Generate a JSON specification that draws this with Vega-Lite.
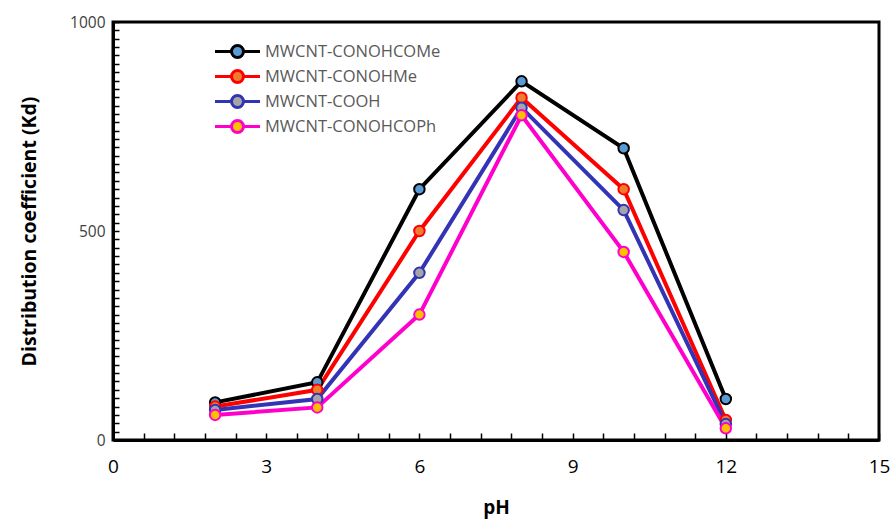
{
  "$schema": "https://vega.github.io/schema/vega-lite/v6.json",
  "autosize": "none",
  "width": 766,
  "height": 418,
  "padding": {"left": 113, "top": 22, "right": 17, "bottom": 83},
  "background": "white",
  "config": {
    "view": {"stroke": "black", "strokeWidth": 3},
    "font": "Open Sans"
  },
  "data": {
    "values": [
      {"pH": 2, "Kd": 90, "s": "MWCNT-CONOHCOMe"},
      {"pH": 4, "Kd": 138, "s": "MWCNT-CONOHCOMe"},
      {"pH": 6, "Kd": 600, "s": "MWCNT-CONOHCOMe"},
      {"pH": 8, "Kd": 858, "s": "MWCNT-CONOHCOMe"},
      {"pH": 10, "Kd": 698, "s": "MWCNT-CONOHCOMe"},
      {"pH": 12, "Kd": 98, "s": "MWCNT-CONOHCOMe"},
      {"pH": 2, "Kd": 80, "s": "MWCNT-CONOHMe"},
      {"pH": 4, "Kd": 120, "s": "MWCNT-CONOHMe"},
      {"pH": 6, "Kd": 500, "s": "MWCNT-CONOHMe"},
      {"pH": 8, "Kd": 819, "s": "MWCNT-CONOHMe"},
      {"pH": 10, "Kd": 600, "s": "MWCNT-CONOHMe"},
      {"pH": 12, "Kd": 48, "s": "MWCNT-CONOHMe"},
      {"pH": 2, "Kd": 72, "s": "MWCNT-COOH"},
      {"pH": 4, "Kd": 98, "s": "MWCNT-COOH"},
      {"pH": 6, "Kd": 400, "s": "MWCNT-COOH"},
      {"pH": 8, "Kd": 795, "s": "MWCNT-COOH"},
      {"pH": 10, "Kd": 550, "s": "MWCNT-COOH"},
      {"pH": 12, "Kd": 38, "s": "MWCNT-COOH"},
      {"pH": 2, "Kd": 60, "s": "MWCNT-CONOHCOPh"},
      {"pH": 4, "Kd": 78, "s": "MWCNT-CONOHCOPh"},
      {"pH": 6, "Kd": 300, "s": "MWCNT-CONOHCOPh"},
      {"pH": 8, "Kd": 777, "s": "MWCNT-CONOHCOPh"},
      {"pH": 10, "Kd": 450, "s": "MWCNT-CONOHCOPh"},
      {"pH": 12, "Kd": 28, "s": "MWCNT-CONOHCOPh"}
    ]
  },
  "encoding": {
    "x": {
      "field": "pH", "type": "quantitative",
      "scale": {"domain": [0, 15], "nice": false, "zero": false},
      "axis": {
        "title": "pH",
        "titleFont": "Open Sans", "titleFontSize": 19, "titleFontWeight": "bold", "titleColor": "black",
        "titlePadding": 22,
        "values": [0, 0.6, 1.2, 1.8, 2.4, 3, 3.6, 4.2, 4.8, 5.4, 6, 6.6, 7.2, 7.8, 8.4, 9, 9.6, 10.2, 10.8, 11.4, 12, 12.6, 13.2, 13.8, 14.4, 15],
        "tickCount": 100,
        "tickMinStep": 0.1,
        "labelExpr": "indexof([0, 3, 6, 9, 12, 15], datum.value) >= 0 ? format(datum.value, 'd') : ''",
        "labelOverlap": false,
        "labelFont": "Open Sans", "labelFontSize": 19, "labelColor": "black",
        "labelPadding": 24, "labelFlush": false, "labelBound": false,
        "domainColor": "black", "domainWidth": 3,
        "tickColor": "black", "tickWidth": 1.5,
        "tickSize": -7,
        "grid": false
      }
    },
    "y": {
      "field": "Kd", "type": "quantitative",
      "scale": {"domain": [0, 1000], "nice": false},
      "axis": {
        "title": "Distribution coefficient (Kd)",
        "titleFont": "Open Sans", "titleFontSize": 19.5, "titleFontWeight": "bold", "titleColor": "black",
        "titlePadding": 30,
        "values": [0,20,40,60,80,100,120,140,160,180,200,220,240,260,280,300,320,340,360,380,400,420,440,460,480,500,520,540,560,580,600,620,640,660,680,700,720,740,760,780,800,820,840,860,880,900,920,940,960,980,1000],
        "tickCount": 100,
        "labelExpr": "datum.value % 500 === 0 ? format(datum.value, 'd') : ''",
        "labelOverlap": false,
        "labelFont": "Open Sans", "labelFontSize": 15.5, "labelColor": "#404040",
        "labelPadding": 14,
        "domainColor": "black", "domainWidth": 3,
        "tickColor": "black", "tickWidth": 1.5,
        "tickSize": -6,
        "grid": false
      }
    },
    "stroke": {
      "field": "s", "type": "nominal",
      "scale": {
        "domain": ["MWCNT-CONOHCOMe", "MWCNT-CONOHMe", "MWCNT-COOH", "MWCNT-CONOHCOPh"],
        "range": ["#000000", "#FF0000", "#3333B5", "#FF00CC"]
      },
      "legend": {
        "title": null,
        "orient": "none", "legendX": 113, "legendY": 18,
        "symbolType": "M-2.25,0L-0.6,0M0.6,0L2.25,0M0.6,0A0.6,0.6 0 1,1 -0.6,0A0.6,0.6 0 1,1 0.6,0Z",
        "symbolSize": 400, "symbolStrokeWidth": 3,
        "labelFont": "Open Sans", "labelFontSize": 16.5, "labelColor": "#595959",
        "labelOffset": 16, "rowPadding": 0, "labelLimit": 300
      }
    }
  },
  "layer": [
    {
      "mark": {"type": "line", "strokeWidth": 4}
    },
    {
      "mark": {"type": "point", "filled": true, "size": 110, "strokeWidth": 2, "opacity": 1},
      "encoding": {
        "fill": {
          "field": "s", "type": "nominal",
          "scale": {
            "domain": ["MWCNT-CONOHCOMe", "MWCNT-CONOHMe", "MWCNT-COOH", "MWCNT-CONOHCOPh"],
            "range": ["#5B9BD5", "#ED7D31", "#A5A5A5", "#FFC000"]
          },
          "legend": {
            "title": null,
            "orient": "none", "legendX": 113, "legendY": 18,
            "symbolType": "M-2.25,0L-0.6,0M0.6,0L2.25,0M0.6,0A0.6,0.6 0 1,1 -0.6,0A0.6,0.6 0 1,1 0.6,0Z",
            "symbolSize": 400, "symbolStrokeWidth": 3,
            "labelFont": "Open Sans", "labelFontSize": 16.5, "labelColor": "#595959",
            "labelOffset": 16, "rowPadding": 0, "labelLimit": 300
          }
        }
      }
    }
  ]
}
